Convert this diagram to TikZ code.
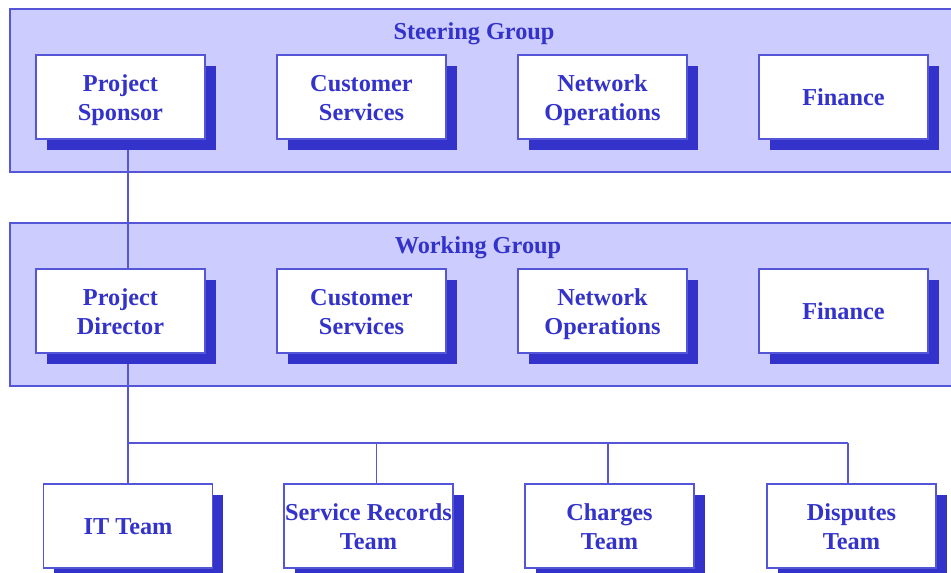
\documentclass[tikz,border=0pt]{standalone}
\usepackage{fontspec}
\setmainfont{Liberation Serif}
\usetikzlibrary{shadows}
\definecolor{panelfill}{HTML}{CCCCFF}
\definecolor{edgeblue}{HTML}{5555D8}
\definecolor{inkblue}{HTML}{3333CC}
\pgfdeclarelayer{panels}
\pgfdeclarelayer{links}
\pgfsetlayers{panels,links,main}
% centred label lines, lowered slightly inside the card
\newcommand\cardtext[1]{\raisebox{-3pt}[\height][\depth]{\setlength\tabcolsep{0pt}\begin{tabular}{c}#1\end{tabular}}}
\tikzset{
  unitbox/.style={draw=edgeblue, line width=1.2pt, fill=white,
    minimum width=169pt, minimum height=84pt, inner sep=0pt,
    text=inkblue,
    font=\fontsize{24.3}{29.5}\selectfont\bfseries,
    general shadow={shadow xshift=10.5pt, shadow yshift=-10.5pt, fill=inkblue}},
  groupbox/.style={draw=edgeblue, line width=1.2pt, fill=panelfill},
  grouptitle/.style={text=inkblue, font=\fontsize{24.3}{29.5}\selectfont\bfseries},
  link/.style={draw=edgeblue, line width=1.4pt}
}
\begin{document}
\begin{tikzpicture}[x=1pt, y=-1pt]
\useasboundingbox (0,0) rectangle (951,573);

% group panels
\begin{pgfonlayer}{panels}
  \draw[groupbox] (10,9) rectangle (965,172);
  \draw[groupbox] (10,223) rectangle (965,386);
\end{pgfonlayer}
\node[grouptitle] (steer) at (474,34) {Steering Group};
\node[grouptitle] (work) at (478,248) {Working Group};

% steering group members
\node[unitbox] (sponsor) at (120.5,97) {\cardtext{Project\\Sponsor}};
\node[unitbox] (scust) at (361.5,97) {\cardtext{Customer\\Services}};
\node[unitbox] (snet) at (602.5,97) {\cardtext{Network\\Operations}};
\node[unitbox] (sfin) at (843.5,97) {\cardtext{Finance}};

% working group members
\node[unitbox] (director) at (120.5,311) {\cardtext{Project\\Director}};
\node[unitbox] (wcust) at (361.5,311) {\cardtext{Customer\\Services}};
\node[unitbox] (wnet) at (602.5,311) {\cardtext{Network\\Operations}};
\node[unitbox] (wfin) at (843.5,311) {\cardtext{Finance}};

% teams
\node[unitbox] (it) at (128,526) {\cardtext{IT Team}};
\node[unitbox] (records) at (368.5,526) {\cardtext{Service Records\\Team}};
\node[unitbox] (charges) at (609.5,526) {\cardtext{Charges\\Team}};
\node[unitbox] (disputes) at (851.5,526) {\cardtext{Disputes\\Team}};

% bus drop points
\coordinate (b0) at (128,443);
\coordinate (b1) at (376.5,443);
\coordinate (b2) at (608,443);
\coordinate (b3) at (848,443);

\begin{pgfonlayer}{links}
  \draw[link] (sponsor.south -| it.north) -- (director.north -| it.north);
  \draw[link] (director.south -| it.north) -- (it.north);
  \draw[link] (b0) -- (b3);
  \draw[link] (b1) -- (b1 |- records.north);
  \draw[link] (b2) -- (b2 |- charges.north);
  \draw[link] (b3) -- (b3 |- disputes.north);
\end{pgfonlayer}
\end{tikzpicture}
\end{document}
